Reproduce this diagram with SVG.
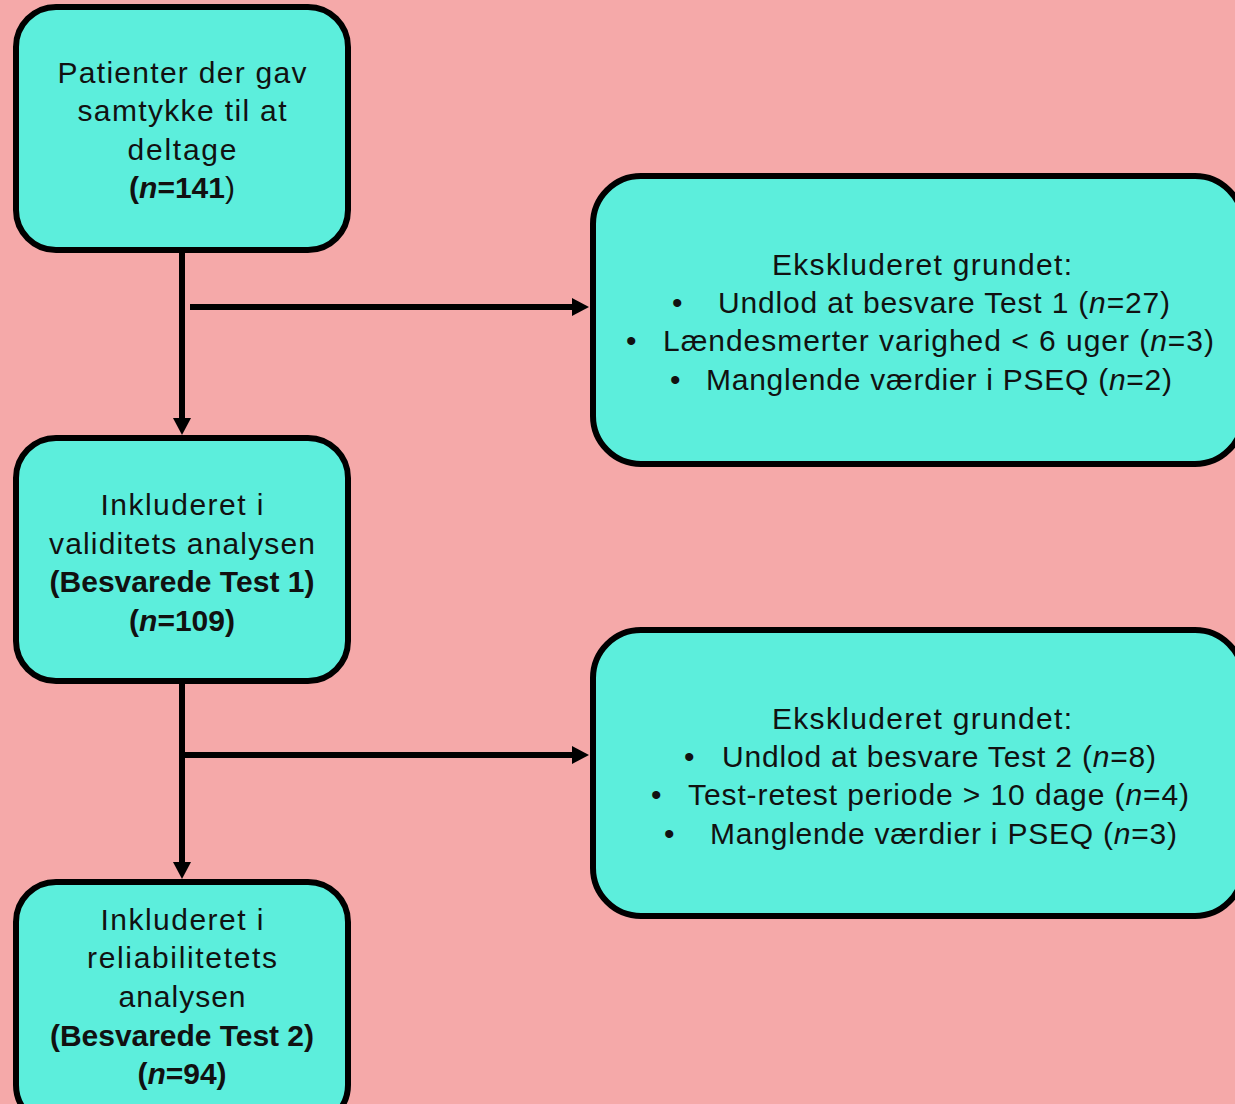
<svg xmlns="http://www.w3.org/2000/svg" width="1235" height="1104" viewBox="0 0 1235 1104">
<style>
.bg{fill:#F5A9A9}
.box{fill:#5CEEDC;stroke:#000;stroke-width:6}
.t{font-family:"Liberation Sans",Arial,sans-serif;font-size:30px;fill:#111}
.c{text-anchor:middle}
.b{font-weight:bold}
.i{font-style:italic}
.n{font-weight:normal}
.con{stroke:#000;stroke-width:6;fill:none}
</style>
<defs>
<marker id="ah" markerUnits="userSpaceOnUse" markerWidth="17" markerHeight="18" refX="0" refY="9" orient="auto">
<path d="M0,0 L17,9 L0,18 z" fill="#000"/>
</marker>
</defs>
<rect class="bg" x="0" y="0" width="1235" height="1104"/>
<g id="connectors">
<line class="con" x1="182" y1="250" x2="182" y2="418" marker-end="url(#ah)"/>
<line class="con" x1="190" y1="307" x2="572" y2="307" marker-end="url(#ah)"/>
<line class="con" x1="182" y1="681" x2="182" y2="862" marker-end="url(#ah)"/>
<line class="con" x1="182" y1="755" x2="572" y2="755" marker-end="url(#ah)"/>
</g>
<g id="node-consent">
<rect class="box" x="16" y="7" width="332" height="243" rx="40"/>
<text class="t c" x="182" y="83" textLength="249" lengthAdjust="spacing">Patienter der gav</text>
<text class="t c" x="182" y="121" textLength="209" lengthAdjust="spacing">samtykke til at</text>
<text class="t c" x="182" y="160" textLength="109" lengthAdjust="spacing">deltage</text>
<text class="t c b" x="182" y="198">(<tspan class="i">n</tspan>=141<tspan class="n">)</tspan></text>
</g>
<g id="node-validity">
<rect class="box" x="16" y="438" width="332" height="243" rx="40"/>
<text class="t c" x="182" y="515" textLength="163" lengthAdjust="spacing">Inkluderet i</text>
<text class="t c" x="182" y="554" textLength="266" lengthAdjust="spacing">validitets analysen</text>
<text class="t c b" x="182" y="592" textLength="265" lengthAdjust="spacing">(Besvarede Test 1)</text>
<text class="t c b" x="182" y="631">(<tspan class="i">n</tspan>=109)</text>
</g>
<g id="node-reliability">
<rect class="box" x="16" y="882" width="332" height="243" rx="40"/>
<text class="t c" x="182" y="930" textLength="163" lengthAdjust="spacing">Inkluderet i</text>
<text class="t c" x="182" y="968" textLength="190" lengthAdjust="spacing">reliabilitetets</text>
<text class="t c" x="182" y="1007" textLength="127" lengthAdjust="spacing">analysen</text>
<text class="t c b" x="182" y="1046" textLength="264" lengthAdjust="spacing">(Besvarede Test 2)</text>
<text class="t c b" x="182" y="1084">(<tspan class="i">n</tspan>=94)</text>
</g>
<g id="node-excluded-1">
<rect class="box" x="593" y="176" width="650" height="288" rx="48"/>
<text class="t" x="772" y="275" textLength="300" lengthAdjust="spacing">Ekskluderet grundet:</text>
<text class="t" x="672" y="313">•</text>
<text class="t" x="718" y="313" textLength="452" lengthAdjust="spacing">Undlod at besvare Test 1 (<tspan class="i">n</tspan>=27)</text>
<text class="t" x="626" y="351">•</text>
<text class="t" x="663" y="351" textLength="551" lengthAdjust="spacing">Lændesmerter varighed &lt; 6 uger (<tspan class="i">n</tspan>=3)</text>
<text class="t" x="670" y="390">•</text>
<text class="t" x="706" y="390" textLength="466" lengthAdjust="spacing">Manglende værdier i PSEQ (<tspan class="i">n</tspan>=2)</text>
</g>
<g id="node-excluded-2">
<rect class="box" x="593" y="630" width="650" height="286" rx="48"/>
<text class="t" x="772" y="729" textLength="300" lengthAdjust="spacing">Ekskluderet grundet:</text>
<text class="t" x="684" y="767">•</text>
<text class="t" x="722" y="767" textLength="434" lengthAdjust="spacing">Undlod at besvare Test 2 (<tspan class="i">n</tspan>=8)</text>
<text class="t" x="651" y="805">•</text>
<text class="t" x="688" y="805" textLength="501" lengthAdjust="spacing">Test-retest periode &gt; 10 dage (<tspan class="i">n</tspan>=4)</text>
<text class="t" x="664" y="844">•</text>
<text class="t" x="710" y="844" textLength="467" lengthAdjust="spacing">Manglende værdier i PSEQ (<tspan class="i">n</tspan>=3)</text>
</g>
</svg>
